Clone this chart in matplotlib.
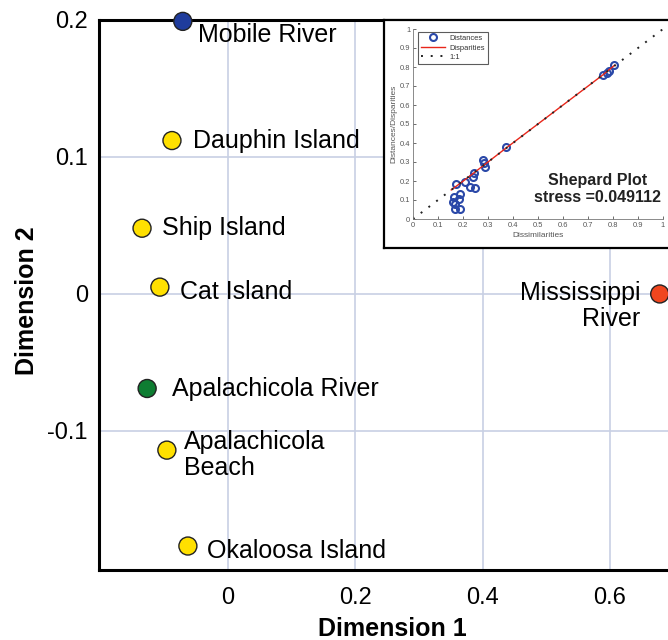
import matplotlib.pyplot as plt

# ---------------------------
# Data
# ---------------------------
sites = ["Mobile River", "Dauphin Island", "Ship Island", "Cat Island",
         "Apalachicola River", "Apalachicola\nBeach", "Okaloosa Island",
         "Mississippi\nRiver"]
dim1 = [-0.071, -0.088, -0.135, -0.107, -0.127, -0.096, -0.063, 0.678]
dim2 = [0.199, 0.112, 0.048, 0.005, -0.069, -0.114, -0.184, 0.0]
site_colors = ["#1F3C9C", "#FFE000", "#FFE000", "#FFE000",
               "#0E7D32", "#FFE000", "#FFE000", "#F0461E"]

# Shepard plot values
dissim = [0.172, 0.162, 0.160, 0.169, 0.166, 0.186, 0.182, 0.189, 0.206,
          0.229, 0.246, 0.238, 0.245, 0.279, 0.282, 0.287, 0.371,
          0.761, 0.774, 0.785, 0.805]
distances = [0.186, 0.118, 0.091, 0.079, 0.051, 0.051, 0.107, 0.132, 0.196,
             0.167, 0.165, 0.223, 0.240, 0.311, 0.293, 0.272, 0.381,
             0.758, 0.770, 0.781, 0.809]
disp_x = [0.153, 0.206, 0.246, 0.287, 0.371, 0.761, 0.807]
disp_y = [0.153, 0.205, 0.245, 0.287, 0.372, 0.760, 0.810]
stress = 0.049112

# label offsets in pixels (dx, dy)
label_offsets = [(15, -14), (21, 0), (20, 0), (20, -5),
                 (25, -1), (17, -5), (19, -5), (-19, -12)]

plt.rcParams["font.family"] = ["Liberation Sans", "DejaVu Sans"]

fig = plt.figure(figsize=(6.68, 6.4), dpi=100)
ax = fig.add_axes([99 / 668, 70 / 640, 569 / 668, 550 / 640])

ax.set_xlim(-0.2026, 0.691)
ax.set_ylim(-0.2015, 0.2)
ax.set_xticks([0, 0.2, 0.4, 0.6])
ax.set_xticklabels(["0", "0.2", "0.4", "0.6"])
ax.set_yticks([-0.1, 0, 0.1, 0.2])
ax.set_yticklabels(["-0.1", "0", "0.1", "0.2"])
ax.grid(True, color="#C8D0E4", lw=1.2)
ax.set_axisbelow(True)
ax.tick_params(length=0, labelsize=17, colors="black")
ax.tick_params(axis="x", pad=12)
ax.tick_params(axis="y", pad=8)
for side in ["left", "bottom", "top"]:
    ax.spines[side].set_linewidth(2.2)
    ax.spines[side].set_color("black")
ax.spines["right"].set_visible(False)

ax.set_xlabel("Dimension 1", fontsize=18, fontweight="bold")
ax.set_ylabel("Dimension 2", fontsize=18, fontweight="bold")
ax.xaxis.set_label_coords(0.515, -0.085)
ax.yaxis.set_label_coords(-0.105, 0.49)

ax.scatter(dim1, dim2, s=168, c=site_colors, edgecolors="#222222",
           linewidths=1.0, zorder=3, clip_on=False)

for name, x, y, (dx, dy) in zip(sites, dim1, dim2, label_offsets):
    ha = "right" if dx < 0 else "left"
    ax.annotate(name, (x, y), xytext=(dx, dy), textcoords="offset pixels",
                ha=ha, va="center", fontsize=18, multialignment=ha,
                linespacing=1.1, zorder=4)

# ---------------------------
# Inset: Shepard plot
# ---------------------------
frame = fig.add_axes([384 / 668, (640 - 248) / 640, 1 - 384 / 668 + 0.01,
                      (248 - 20) / 640])
frame.set_facecolor("white")
frame.set_xticks([])
frame.set_yticks([])
for s in frame.spines.values():
    s.set_linewidth(1.6)
    s.set_color("black")

ins = fig.add_axes([413 / 668, (640 - 219) / 640, 250 / 668, 190 / 640])
ins.set_facecolor("none")
ins.set_xlim(0, 1)
ins.set_ylim(0, 1)
ticks = [i / 10 for i in range(11)]
tick_labels = ["0", "0.1", "0.2", "0.3", "0.4", "0.5", "0.6", "0.7",
               "0.8", "0.9", "1"]
ins.set_xticks(ticks)
ins.set_yticks(ticks)
ins.set_xticklabels(tick_labels)
ins.set_yticklabels(tick_labels)
ins.tick_params(direction="in", length=2, width=0.6, labelsize=5.4,
                colors="#555555", pad=2)
for side in ["top", "right"]:
    ins.spines[side].set_visible(False)
for side in ["left", "bottom"]:
    ins.spines[side].set_color("#777777")
    ins.spines[side].set_linewidth(0.6)

ins.plot(dissim, distances, "o", mfc="none", mec="#2A48A8", ms=5, mew=1.5,
         label="Distances", clip_on=False)
ins.plot(disp_x, disp_y, "-", color="#E8261A", lw=1.0, label="Disparities")
ins.plot([0, 1], [0, 1], linestyle=(0, (1, 4)), color="#222222", lw=1.4,
         label="1:1")
ins.set_xlabel("Dissimilarities", fontsize=6, color="#555555", labelpad=2)
ins.set_ylabel("Distances/Disparities", fontsize=6, color="#555555",
               labelpad=2)

leg = ins.legend(loc="upper left", bbox_to_anchor=(0.02, 0.985),
                 fontsize=5.4, frameon=True, fancybox=False,
                 handlelength=3.2, borderpad=0.4, labelspacing=0.3,
                 handletextpad=0.6, borderaxespad=0)
leg.get_frame().set_edgecolor("#333333")
leg.get_frame().set_linewidth(0.8)
for t in leg.get_texts():
    t.set_color("#333333")

ins.text(0.74, 0.16, "Shepard Plot\nstress =%g" % stress, ha="center",
         va="center", fontsize=11.5, fontweight="bold", color="#222222",
         linespacing=1.15)

fig.savefig("out.png", dpi=100)
